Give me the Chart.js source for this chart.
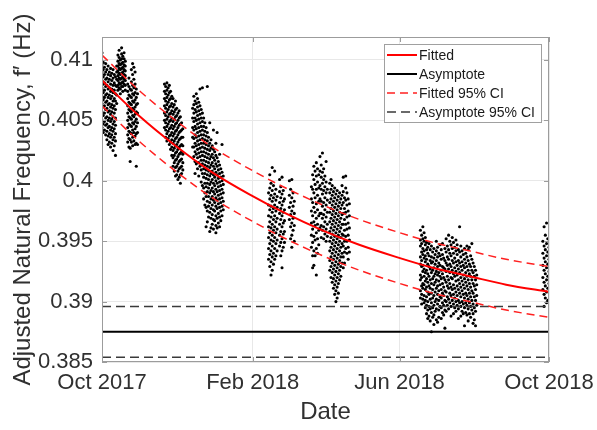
<!DOCTYPE html>
<html>
<head>
<meta charset="utf-8">
<script src="https://cdn.jsdelivr.net/npm/chart.js@4.4.1/dist/chart.umd.min.js"></script>
<style>
  html, body { margin: 0; padding: 0; background: #fff; }
  #wrap { width: 597px; height: 430px; }
</style>
</head>
<body>
<div id="wrap"><canvas id="c" width="597" height="430"></canvas></div>
<script>
// Time axis: days since 1 Oct 2017
const tickDays = [0, 123, 243, 365];
const tickDates = ['Oct 2017', 'Feb 2018', 'Jun 2018', 'Oct 2018'];
const freqTicks = [0.385, 0.39, 0.395, 0.4, 0.405, 0.41];
const freqTickLabels = ['0.385', '0.39', '0.395', '0.4', '0.405', '0.41'];

// Fitted frequency trend and its 95% confidence band (Hz)
const fitDays = [0, 30, 60, 90, 120, 150, 180, 210, 240, 270, 300, 330, 365];
const fitted = [0.4083, 0.4054, 0.4029, 0.4007, 0.3989, 0.3973, 0.3959, 0.3947, 0.3937, 0.3928, 0.3921, 0.3914, 0.3908];
const fittedUpper = [0.4104, 0.4075, 0.4050, 0.4028, 0.4010, 0.3994, 0.3980, 0.3968, 0.3958, 0.3949, 0.3942, 0.3935, 0.3929];
const fittedLower = [0.4062, 0.4033, 0.4008, 0.3986, 0.3968, 0.3952, 0.3938, 0.3926, 0.3916, 0.3907, 0.3900, 0.3893, 0.3887];

// Asymptote of the fit and its 95% confidence bounds (Hz)
const asymptoteDays = [0, 365];
const asymptote = [0.3875, 0.3875];
const asymptoteUpper = [0.3896, 0.3896];
const asymptoteLower = [0.3854, 0.3854];

// Measured frequencies per day, in units of 0.1 mHz: [day, [values]]
const samplesOct2017a = [
  [0, [4106, 4096, 4090, 4083, 4077, 4070, 4064, 4057, 4050, 4044]],
  [1, [4098, 4092, 4086, 4080, 4073, 4067, 4061, 4054, 4047, 4040]],
  [2, [4094, 4088, 4081, 4075, 4069, 4062, 4056, 4049, 4042]],
  [3, [4097, 4090, 4084, 4078, 4071, 4065, 4059, 4052, 4046, 4038]],
  [4, [4092, 4085, 4079, 4072, 4066, 4060, 4053, 4047, 4041, 4034]],
  [5, [4095, 4088, 4082, 4076, 4069, 4063, 4057, 4050, 4044, 4037, 4030]],
  [6, [4090, 4084, 4077, 4071, 4064, 4058, 4052, 4045, 4039, 4032]],
  [7, [4093, 4087, 4080, 4074, 4068, 4061, 4055, 4049, 4042, 4036, 4028]],
  [8, [4089, 4083, 4076, 4070, 4063, 4057, 4051, 4044, 4038, 4031]],
  [9, [4092, 4085, 4079, 4073, 4066, 4060, 4053, 4047, 4041, 4034, 4025]],
  [10, [4088, 4081, 4075, 4068, 4062, 4056, 4049, 4043, 4036, 4029]],
  [11, [4086, 4079, 4072, 4066, 4059, 4052, 4046, 4039, 4033, 4021]],
  [12, [4095, 4090, 4084, 4078, 4071, 4064]]
];
const samplesOct2017b = [
  [13, [4104, 4099, 4095, 4091, 4087, 4083, 4079, 4075]],
  [14, [4108, 4102, 4097, 4093, 4089, 4085, 4081, 4077]],
  [15, [4100, 4096, 4092, 4088, 4084, 4080, 4076, 4072]],
  [16, [4110, 4105, 4101, 4097, 4093, 4089, 4085, 4081, 4078]],
  [17, [4103, 4098, 4094, 4090, 4086, 4082, 4078, 4074]],
  [18, [4106, 4101, 4096, 4092, 4088, 4084, 4080]],
  [19, [4099, 4095, 4091, 4087, 4083, 4079, 4075]]
];
const samplesOct2017c = [
  [21, [4080, 4074, 4068, 4062, 4056, 4050, 4044, 4038, 4032]],
  [22, [4085, 4078, 4071, 4065, 4059, 4053, 4047, 4041, 4035, 4028]],
  [23, [4076, 4070, 4064, 4058, 4052, 4046, 4040, 4034, 4027, 4016]],
  [24, [4092, 4082, 4075, 4069, 4063, 4057, 4051, 4045, 4039, 4032]],
  [25, [4097, 4088, 4079, 4072, 4066, 4060, 4054, 4048, 4042, 4036, 4029]],
  [26, [4094, 4084, 4077, 4071, 4065, 4059, 4053, 4047, 4040, 4033]],
  [27, [4090, 4080, 4073, 4067, 4061, 4055, 4049, 4043, 4037, 4030]],
  [28, [4076, 4069, 4063, 4057, 4051, 4045, 4039, 4031, 4012]],
  [29, [4072, 4064, 4056, 4048, 4040, 4030]]
];
const samplesNov2017 = [
  [51, [4080, 4074, 4068, 4062, 4056, 4050, 4044]],
  [52, [4078, 4072, 4066, 4060, 4054, 4048, 4042, 4036]],
  [53, [4081, 4075, 4069, 4063, 4057, 4051, 4045, 4039, 4033]],
  [54, [4077, 4071, 4065, 4059, 4053, 4047, 4041, 4035]],
  [55, [4079, 4073, 4067, 4061, 4055, 4049, 4043, 4037, 4030]],
  [56, [4074, 4068, 4062, 4056, 4050, 4044, 4038, 4032, 4026]],
  [57, [4070, 4064, 4058, 4052, 4046, 4040, 4034, 4028, 4021]],
  [58, [4068, 4061, 4055, 4049, 4043, 4037, 4031, 4025, 4019, 4012]],
  [59, [4063, 4057, 4051, 4045, 4039, 4033, 4027, 4021, 4015, 4008]],
  [60, [4066, 4059, 4053, 4047, 4041, 4035, 4029, 4023, 4017, 4011, 4004]],
  [61, [4060, 4054, 4048, 4042, 4036, 4030, 4024, 4018, 4012, 4005]],
  [62, [4056, 4050, 4044, 4038, 4032, 4026, 4020, 4014, 4008, 4001]],
  [63, [4058, 4052, 4046, 4040, 4034, 4028, 4022, 4016, 4010, 4003]],
  [64, [4053, 4047, 4041, 4035, 4029, 4023, 4017, 4011, 4005, 3998]],
  [65, [4048, 4042, 4036, 4030, 4024, 4018, 4012, 4006]],
  [66, [4043, 4036, 4029, 4022, 4015, 4009]]
];
const samplesDec2017 = [
  [74, [4060, 4052, 4044, 4036, 4028]],
  [75, [4070, 4063, 4056, 4049, 4042, 4035, 4028, 4020]],
  [76, [4066, 4059, 4052, 4045, 4038, 4031, 4024, 4016, 4006]],
  [77, [4072, 4064, 4057, 4050, 4043, 4036, 4029, 4022, 4014]],
  [78, [4068, 4061, 4054, 4047, 4040, 4033, 4026, 4019, 4010]],
  [79, [4065, 4058, 4051, 4044, 4037, 4030, 4023, 4015, 4004]],
  [80, [4076, 4062, 4055, 4048, 4041, 4034, 4027, 4020, 4012]],
  [81, [4059, 4052, 4045, 4038, 4031, 4024, 4017, 4009, 3999]],
  [82, [4077, 4056, 4049, 4042, 4035, 4028, 4021, 4014, 4006, 3996]],
  [83, [4052, 4045, 4038, 4031, 4024, 4017, 4010, 4003, 3994, 3985]],
  [84, [4048, 4041, 4034, 4027, 4020, 4013, 4006, 3998, 3990, 3980]],
  [85, [4044, 4037, 4030, 4023, 4016, 4009, 4002, 3995, 3987, 3978, 3962]],
  [86, [4078, 4040, 4033, 4026, 4019, 4012, 4005, 3998, 3991, 3983, 3975, 3966]],
  [87, [4036, 4029, 4022, 4015, 4008, 4001, 3994, 3987, 3979, 3970]],
  [88, [4048, 4031, 4025, 4018, 4011, 4004, 3997, 3990, 3982, 3974, 3958]],
  [89, [4034, 4027, 4020, 4013, 4006, 3999, 3992, 3985, 3977, 3969, 3961]],
  [90, [4029, 4022, 4015, 4008, 4001, 3994, 3987, 3980, 3972, 3964]],
  [91, [4042, 4026, 4019, 4012, 4005, 3998, 3991, 3984, 3976, 3968, 3960]],
  [92, [4024, 4017, 4010, 4003, 3996, 3989, 3982, 3975, 3967]],
  [93, [4031, 4021, 4014, 4007, 4000, 3993, 3986, 3979, 3971, 3963, 3957]],
  [94, [4040, 4019, 4012, 4005, 3998, 3991, 3984, 3977, 3969, 3961]],
  [95, [4016, 4009, 4002, 3995, 3988, 3981, 3973, 3965]],
  [96, [4022, 4013, 4006, 3999, 3992, 3985, 3978, 3970, 3962]],
  [97, [4010, 4003, 3996, 3989, 3982, 3975, 3967]],
  [98, [4030, 4007, 4000, 3993, 3986, 3979, 3971]],
  [99, [4004, 3997, 3990, 3983, 3976]]
];
const samplesFeb2018 = [
  [136, [3990, 3980, 3971, 3962, 3953, 3944, 3935]],
  [137, [4005, 3994, 3985, 3976, 3966, 3957, 3948, 3939, 3929]],
  [138, [3998, 3988, 3979, 3970, 3961, 3951, 3942, 3933, 3922]],
  [139, [4011, 3992, 3983, 3974, 3964, 3955, 3946, 3937, 3926]],
  [140, [3996, 3986, 3977, 3968, 3959, 3950, 3940, 3931]],
  [141, [4008, 3989, 3980, 3971, 3962, 3953, 3944, 3935]],
  [142, [3993, 3984, 3975, 3966, 3957, 3948, 3938]],
  [143, [3987, 3978, 3969, 3960, 3951, 3942]],
  [145, [4001, 3991, 3982, 3973, 3964, 3955, 3946]],
  [146, [3995, 3986, 3977, 3968, 3958, 3949, 3938]],
  [147, [4003, 3989, 3980, 3971, 3962, 3952, 3942, 3928]],
  [148, [3992, 3983, 3974, 3965, 3956, 3945]],
  [149, [3985, 3976, 3967, 3958, 3949]],
  [153, [4000, 3988, 3978, 3968]],
  [154, [3993, 3982, 3972, 3962, 3952]],
  [155, [4001, 3986, 3975, 3965, 3955, 3945]],
  [156, [3990, 3979, 3969, 3959]],
  [157, [3983, 3973, 3963, 3950]]
];
const samplesMar2018 = [
  [171, [3995, 3985, 3975, 3965, 3955, 3945]],
  [172, [4005, 3993, 3982, 3971, 3960, 3949, 3938, 3928]],
  [173, [4012, 4001, 3990, 3978, 3966, 3954, 3942, 3930]],
  [174, [4008, 3997, 3986, 3974, 3963, 3951, 3938]],
  [175, [4015, 4004, 3993, 3981, 3969, 3957, 3944, 3922]],
  [176, [4010, 3999, 3988, 3976, 3964, 3952, 3940]],
  [177, [4005, 3994, 3983, 3971, 3959, 3947]],
  [178, [4020, 4008, 3996, 3985, 3973, 3961]],
  [179, [4013, 4003, 3993, 3983, 3973, 3963, 3953]],
  [180, [4023, 4007, 3998, 3989, 3979, 3969, 3959]],
  [181, [4010, 4001, 3992, 3982, 3972, 3962, 3952]],
  [182, [4004, 3995, 3986, 3976, 3966, 3956]],
  [183, [4016, 3999, 3990, 3980, 3970, 3960, 3950]],
  [184, [3993, 3984, 3974, 3964, 3954]],
  [186, [3998, 3990, 3982, 3974, 3966, 3958, 3950, 3942, 3934, 3926]],
  [187, [4001, 3993, 3985, 3977, 3969, 3961, 3953, 3945, 3937, 3929, 3920]],
  [188, [3996, 3988, 3980, 3972, 3964, 3956, 3948, 3940, 3932, 3924, 3916]],
  [189, [3991, 3983, 3975, 3967, 3959, 3951, 3943, 3935, 3927, 3919, 3911]],
  [190, [3994, 3986, 3978, 3970, 3962, 3954, 3946, 3938, 3930, 3922, 3914, 3906]],
  [191, [3989, 3981, 3973, 3965, 3957, 3949, 3941, 3933, 3925, 3917, 3909, 3900]],
  [192, [3992, 3984, 3976, 3968, 3960, 3952, 3944, 3936, 3928, 3920, 3912, 3903]],
  [193, [3987, 3979, 3971, 3963, 3955, 3947, 3939, 3931, 3923, 3915, 3907]],
  [194, [3990, 3982, 3974, 3966, 3958, 3950, 3942, 3934, 3926, 3918]],
  [195, [3985, 3977, 3969, 3961, 3953, 3945, 3937, 3929, 3921]],
  [196, [3996, 3988, 3980, 3972, 3964, 3956, 3948, 3940, 3932]],
  [197, [4003, 3991, 3982, 3973, 3964, 3955, 3946, 3937, 3928]],
  [198, [3986, 3977, 3968, 3959, 3950, 3941, 3932]],
  [199, [4004, 3994, 3984, 3974, 3964, 3954, 3944]],
  [200, [3990, 3980, 3970, 3960, 3950, 3940]],
  [201, [3985, 3975, 3965, 3955, 3945, 3935]],
  [202, [3981, 3971, 3961, 3951, 3941]]
];
const samplesJun2018 = [
  [260, [3959, 3951, 3946, 3937, 3931, 3922, 3918, 3909, 3903]],
  [261, [3955, 3948, 3941, 3934, 3929, 3920, 3913, 3906, 3898]],
  [262, [3962, 3952, 3944, 3939, 3930, 3925, 3915, 3911, 3902]],
  [263, [3957, 3950, 3942, 3936, 3927, 3921, 3914, 3905, 3899]],
  [264, [3953, 3947, 3938, 3933, 3924, 3917, 3910, 3901, 3895]],
  [265, [3949, 3943, 3935, 3926, 3919, 3912, 3904, 3897, 3890]],
  [266, [3945, 3940, 3931, 3923, 3916, 3908, 3900, 3893, 3886]],
  [267, [3948, 3938, 3929, 3921, 3913, 3906, 3896, 3888]],
  [268, [3943, 3934, 3927, 3918, 3911, 3902, 3894, 3884]],
  [269, [3946, 3937, 3932, 3924, 3915, 3907, 3899, 3891, 3875]],
  [270, [3941, 3933, 3926, 3919, 3910, 3903, 3895, 3887]],
  [271, [3944, 3936, 3928, 3921, 3914, 3905, 3897, 3889, 3881]],
  [272, [3939, 3931, 3923, 3916, 3908, 3900, 3892]],
  [273, [3950, 3942, 3934, 3925, 3918, 3911, 3902, 3894, 3885]],
  [274, [3945, 3937, 3929, 3922, 3913, 3906, 3898, 3883]],
  [275, [3940, 3932, 3924, 3917, 3909, 3901, 3893, 3887]],
  [276, [3947, 3938, 3930, 3921, 3914, 3904, 3896]],
  [277, [3943, 3935, 3926, 3919, 3910, 3903, 3895, 3886]],
  [278, [3948, 3939, 3929, 3923, 3915, 3907, 3899, 3891]],
  [279, [3936, 3928, 3920, 3912, 3905, 3897, 3889]],
  [280, [3944, 3934, 3927, 3918, 3909, 3901, 3893, 3878]],
  [281, [3952, 3941, 3932, 3925, 3916, 3908, 3900, 3892]],
  [282, [3946, 3937, 3930, 3921, 3913, 3904, 3897]],
  [283, [3955, 3943, 3935, 3927, 3918, 3911, 3902, 3894]],
  [284, [3950, 3940, 3931, 3924, 3915, 3907, 3899]],
  [285, [3947, 3938, 3929, 3920, 3912, 3905, 3896, 3888]],
  [286, [3953, 3944, 3934, 3926, 3919, 3910, 3901]],
  [287, [3949, 3940, 3932, 3923, 3914, 3906, 3898, 3890]],
  [288, [3945, 3936, 3928, 3921, 3911, 3903, 3895]],
  [289, [3951, 3942, 3933, 3925, 3917, 3908, 3900, 3892]],
  [290, [3947, 3939, 3930, 3922, 3913, 3905, 3897]],
  [291, [3943, 3934, 3927, 3918, 3910, 3901, 3894, 3886]],
  [292, [3962, 3941, 3932, 3924, 3915, 3907, 3899]],
  [293, [3946, 3937, 3929, 3920, 3912, 3904, 3896, 3888]],
  [294, [3942, 3933, 3926, 3917, 3909, 3900, 3892]],
  [295, [3939, 3930, 3922, 3914, 3906, 3898, 3890]],
  [296, [3944, 3935, 3928, 3919, 3911, 3903, 3895, 3880]],
  [297, [3940, 3932, 3924, 3916, 3907, 3899, 3891]],
  [298, [3946, 3937, 3929, 3921, 3913, 3905, 3897, 3889]],
  [299, [3943, 3934, 3926, 3918, 3910, 3902, 3894, 3884]],
  [300, [3945, 3931, 3923, 3915, 3907, 3899, 3890]],
  [301, [3938, 3929, 3921, 3912, 3904, 3896, 3887]],
  [302, [3948, 3935, 3926, 3918, 3909, 3901, 3893]],
  [303, [3932, 3924, 3915, 3907, 3898, 3890, 3882]],
  [304, [3929, 3921, 3913, 3904, 3895, 3885]],
  [305, [3926, 3918, 3910, 3901, 3892, 3880]],
  [306, [3922, 3914, 3905, 3897]]
];
const samplesSep2018 = [
  [360, [3950, 3940, 3930, 3920, 3910]],
  [361, [3962, 3946, 3936, 3926, 3916, 3906, 3896]],
  [362, [3955, 3943, 3933, 3923, 3913, 3903]],
  [363, [3965, 3948, 3938, 3928, 3918, 3908, 3899]],
  [364, [3952, 3941, 3931, 3921, 3911, 3901]],
  [365, [3945, 3935, 3925, 3915]]
];

const sampleGroups = [samplesOct2017a, samplesOct2017b, samplesOct2017c, samplesNov2017,
  samplesDec2017, samplesFeb2018, samplesMar2018, samplesJun2018, samplesSep2018];

const measured = [];
sampleGroups.forEach(group => group.forEach(([day, vals]) => {
  vals.forEach(v => measured.push({ x: day, y: v / 10000 }));
}));

const pairs = (xs, ys) => xs.map((x, i) => ({ x, y: ys[i] }));

const FONT = "'Liberation Sans', Arial, Helvetica, sans-serif";
const TEXT = '#303030';
Chart.defaults.font.family = FONT;
Chart.defaults.color = TEXT;

// MATLAB-style axes box with inward tick marks
const axesBox = {
  id: 'axesBox',
  afterDatasetsDraw(chart) {
    const { ctx, chartArea: a, scales } = chart;
    ctx.save();
    ctx.strokeStyle = '#9c9c9c';
    ctx.lineWidth = 1;
    ctx.strokeRect(a.left + 0.5, a.top + 0.5, a.right - a.left - 1, a.bottom - a.top - 1);
    ctx.beginPath();
    freqTicks.forEach(v => {
      const y = Math.round(scales.y.getPixelForValue(v)) + 0.5;
      ctx.moveTo(a.left, y); ctx.lineTo(a.left + 5, y);
      ctx.moveTo(a.right, y); ctx.lineTo(a.right - 5, y);
    });
    tickDays.forEach(d => {
      const x = Math.round(scales.x.getPixelForValue(d)) + 0.5;
      ctx.moveTo(x, a.bottom); ctx.lineTo(x, a.bottom - 5);
      ctx.moveTo(x, a.top); ctx.lineTo(x, a.top + 5);
    });
    ctx.stroke();
    ctx.restore();
  }
};

// Boxed legend in the upper-right corner of the plot
const boxLegend = {
  id: 'boxLegend',
  afterDraw(chart) {
    const { ctx, chartArea: a } = chart;
    const items = chart.data.datasets.filter(d => d.showInLegend);
    const w = 157, rowH = 19;
    const h = items.length * rowH + 2;
    const x0 = a.right - 165, y0 = a.top + 7;
    ctx.save();
    ctx.fillStyle = '#fff';
    ctx.fillRect(x0, y0, w, h);
    ctx.strokeStyle = '#a0a0a0';
    ctx.lineWidth = 1;
    ctx.strokeRect(x0 + 0.5, y0 + 0.5, w, h);
    ctx.font = '14px ' + FONT;
    ctx.textBaseline = 'middle';
    items.forEach((d, i) => {
      const y = y0 + 11 + i * rowH;
      ctx.beginPath();
      ctx.strokeStyle = d.borderColor;
      ctx.lineWidth = d.borderWidth;
      ctx.setLineDash(d.borderDash || []);
      ctx.moveTo(x0 + 3, y);
      ctx.lineTo(x0 + 33, y);
      ctx.stroke();
      ctx.setLineDash([]);
      ctx.fillStyle = '#1a1a1a';
      ctx.fillText(d.label, x0 + 35, y + 1);
    });
    ctx.restore();
  }
};

const lineDefaults = { type: 'line', showLine: true, pointRadius: 0, fill: false, showInLegend: true };

new Chart(document.getElementById('c'), {
  type: 'scatter',
  data: {
    datasets: [
      { label: 'Measured', data: measured, backgroundColor: '#000', borderWidth: 0,
        pointRadius: 1.55, pointHoverRadius: 1.55, order: 10 },
      { ...lineDefaults, label: 'Fitted', data: pairs(fitDays, fitted), borderColor: '#ff0000',
        borderWidth: 2, cubicInterpolationMode: 'monotone', order: 1 },
      { ...lineDefaults, label: 'Asymptote', data: pairs(asymptoteDays, asymptote), borderColor: '#000',
        borderWidth: 2, order: 2 },
      { ...lineDefaults, label: 'Fitted 95% CI', data: pairs(fitDays, fittedUpper), borderColor: '#ff2020',
        borderWidth: 1.5, borderDash: [8, 5], cubicInterpolationMode: 'monotone', order: 3 },
      { ...lineDefaults, label: 'Asymptote 95% CI', data: pairs(asymptoteDays, asymptoteUpper), borderColor: '#3a3a3a',
        borderWidth: 1.5, borderDash: [9, 5], order: 4 },
      { ...lineDefaults, showInLegend: false, label: 'Fitted 95% CI (lower)', data: pairs(fitDays, fittedLower),
        borderColor: '#ff2020', borderWidth: 1.5, borderDash: [8, 5], cubicInterpolationMode: 'monotone', order: 3 },
      { ...lineDefaults, showInLegend: false, label: 'Asymptote 95% CI (lower)', data: pairs(asymptoteDays, asymptoteLower),
        borderColor: '#3a3a3a', borderWidth: 1.5, borderDash: [9, 5], order: 4 }
    ]
  },
  options: {
    responsive: false,
    animation: false,
    devicePixelRatio: 1,
    layout: { padding: { top: 37, right: 48, left: 0, bottom: 0 } },
    plugins: { legend: { display: false }, tooltip: { enabled: false } },
    scales: {
      x: {
        type: 'linear', min: 0, max: 365,
        afterFit(scale) { scale.height = 68; scale.paddingLeft = 0; scale.paddingRight = 0; },
        afterBuildTicks(scale) { scale.ticks = tickDays.map(v => ({ value: v })); },
        ticks: {
          autoSkip: false, maxRotation: 0, padding: 8,
          font: { size: 22 }, color: TEXT,
          callback: (v, i) => tickDates[i]
        },
        grid: { color: '#e8e8e8', drawTicks: false },
        border: { display: false },
        title: { display: true, text: 'Date', font: { size: 24 }, color: TEXT, padding: { top: 0, bottom: 3 } }
      },
      y: {
        type: 'linear', min: 0.385, max: 0.4119,
        afterFit(scale) { scale.width = 102; scale.paddingTop = 0; scale.paddingBottom = 0; },
        afterBuildTicks(scale) { scale.ticks = freqTicks.map(v => ({ value: v })); },
        ticks: {
          padding: 9, font: { size: 22 }, color: TEXT,
          callback: (v, i) => freqTickLabels[i]
        },
        grid: { color: '#e8e8e8', drawTicks: false },
        border: { display: false },
        title: { display: true, text: 'Adjusted Natural Frequency, f\u2032 (Hz)', font: { size: 24 }, color: TEXT,
          padding: { top: 9, bottom: 0 } }
      }
    }
  },
  plugins: [axesBox, boxLegend]
});
</script>
</body>
</html>
